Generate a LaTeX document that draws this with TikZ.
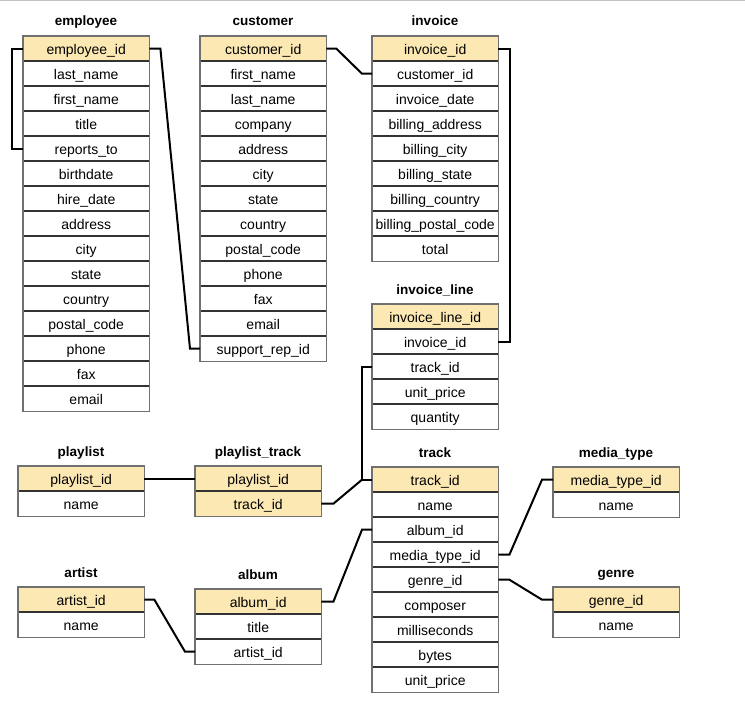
\documentclass[tikz,border=0pt]{standalone}
\usepackage{fontspec}
\setmainfont{Liberation Sans}
\begin{document}
\definecolor{keyyellow}{HTML}{FCE8B2}
\definecolor{rowline}{HTML}{333333}
\definecolor{frameline}{HTML}{707070}
\definecolor{topline}{HTML}{C0C0C0}
\tikzset{
  fieldrow/.style={rectangle, minimum width=126pt, minimum height=25pt,
    inner sep=0pt, text height=11pt, text depth=0pt, font=\fontsize{14}{16}\selectfont},
  tabletitle/.style={font=\bfseries\fontsize{13.5}{15}\selectfont, inner sep=0pt},
  divider/.style={draw=rowline, line width=1.6pt},
  frame/.style={draw=frameline, line width=1.5pt},
  link/.style={draw=black, line width=2pt},
}
% #1 table id, #2 left x, #3 top y, #4 title, #5 number of key rows, #6 fields
\newcommand\erdtable[6]{%
  \node[tabletitle, anchor=base] (#1-title) at (#2+63, #3-10) {#4};
  \foreach \f [count=\i] in {#6} {
    \ifnum\i>#5\relax \def\rowfill{white}\else\def\rowfill{keyyellow}\fi
    \node[fieldrow, fill=\rowfill, anchor=north west] (#1-\i) at (#2, #3+25*\i-25) {\f};
    \xdef\lastrow{\i}
  }
  \foreach \i in {2,...,\lastrow} {
    \draw[divider] (#1-\i.north west) -- (#1-\i.north east);
  }
  \draw[frame] (#1-1.north west) rectangle (#1-\lastrow.south east);
}
\begin{tikzpicture}[x=1pt, y=-1pt]
\useasboundingbox (0,0) rectangle (745,706);
\draw[topline, line width=1.5pt] (0,0.75) -- (745,0.75);

\erdtable{employee}{23}{36}{employee}{1}{employee\_id, last\_name, first\_name, title, reports\_to, birthdate, hire\_date, address, city, state, country, postal\_code, phone, fax, email}
\erdtable{customer}{200}{36}{customer}{1}{customer\_id, first\_name, last\_name, company, address, city, state, country, postal\_code, phone, fax, email, support\_rep\_id}
\erdtable{invoice}{372}{36}{invoice}{1}{invoice\_id, customer\_id, invoice\_date, billing\_address, billing\_city, billing\_state, billing\_country, billing\_postal\_code, total}
\erdtable{invline}{372}{304}{invoice\_line}{1}{invoice\_line\_id, invoice\_id, track\_id, unit\_price, quantity}
\erdtable{playlist}{18}{466}{playlist}{1}{playlist\_id, name}
\erdtable{playlisttrack}{195}{466}{playlist\_track}{2}{playlist\_id, track\_id}
\erdtable{track}{372}{467}{track}{1}{track\_id, name, album\_id, media\_type\_id, genre\_id, composer, milliseconds, bytes, unit\_price}
\erdtable{mediatype}{553}{467}{media\_type}{1}{media\_type\_id, name}
\erdtable{genre}{553}{587}{genre}{1}{genre\_id, name}
\erdtable{artist}{18}{587}{artist}{1}{artist\_id, name}
\erdtable{album}{195}{589}{album}{1}{album\_id, title, artist\_id}

% relationships
\draw[link] (employee-1.west) -- ++(-11,0) |- (employee-5.west);
\draw[link] (employee-1.east) -- ++(11,0) -- ([xshift=-10pt]customer-13.west) -- (customer-13.west);
\draw[link] (customer-1.east) -- ++(10,0) -- ([xshift=-10pt]invoice-2.west) -- (invoice-2.west);
\draw[link] (invoice-1.east) -- ++(12,0) |- (invline-2.east);
\draw[link] (invline-3.west) -- ++(-10,0) |- (track-1.west);
\draw[link] (playlisttrack-2.east) -- ++(12,0) -- ([xshift=-10pt]track-1.west);
\draw[link] (playlist-1.east) -- (playlisttrack-1.west);
\draw[link] (track-3.west) -- ++(-10,0) -- ([xshift=12pt]album-1.east) -- (album-1.east);
\draw[link] (track-4.east) -- ++(11,0) -- ([xshift=-11pt]mediatype-1.west) -- (mediatype-1.west);
\draw[link] (track-5.east) -- ++(11,0) -- ([xshift=-11pt]genre-1.west) -- (genre-1.west);
\draw[link] (artist-1.east) -- ++(10,0) -- ([xshift=-10pt]album-3.west) -- (album-3.west);
\end{tikzpicture}
\end{document}
